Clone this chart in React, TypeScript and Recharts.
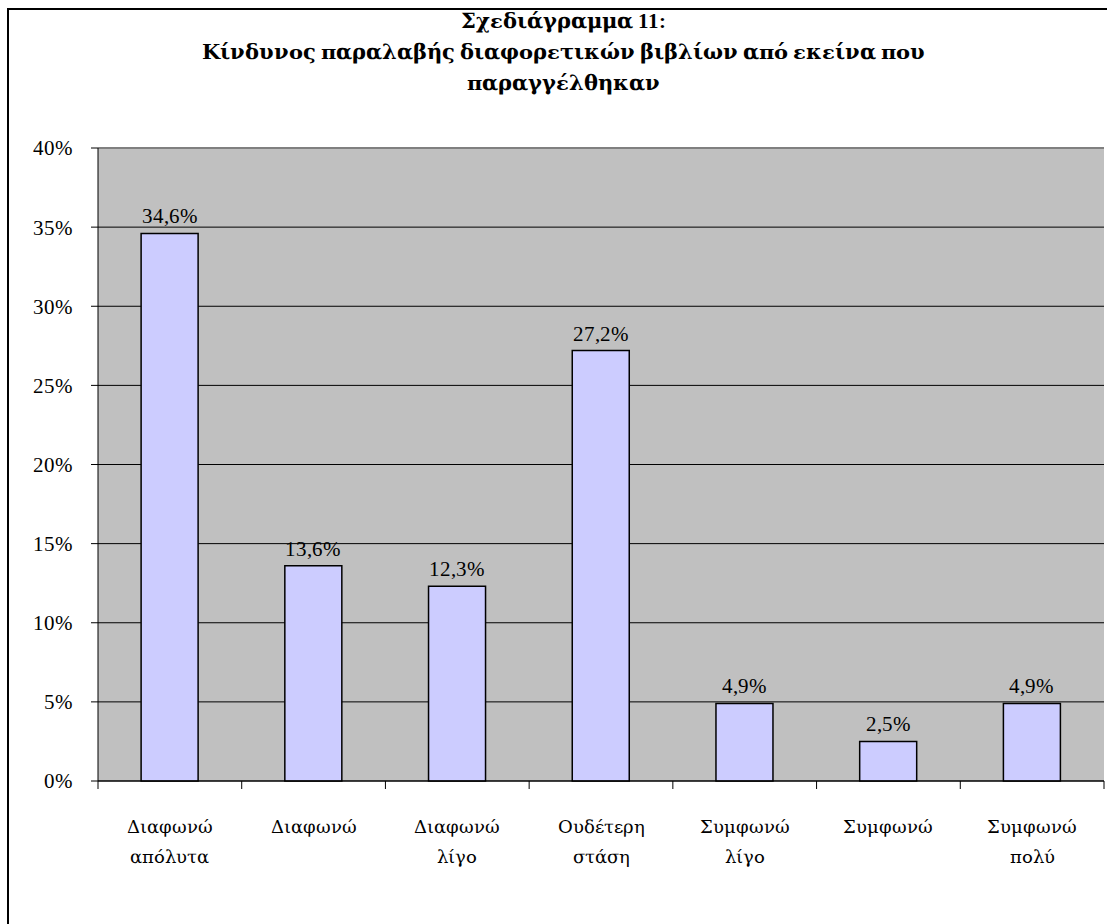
import { BarChart, Bar, XAxis, YAxis, CartesianGrid, LabelList, ReferenceLine } from 'recharts';

const categories = [
  ['Διαφωνώ', 'απόλυτα'],
  ['Διαφωνώ'],
  ['Διαφωνώ', 'λίγο'],
  ['Ουδέτερη', 'στάση'],
  ['Συμφωνώ', 'λίγο'],
  ['Συμφωνώ'],
  ['Συμφωνώ', 'πολύ'],
];
const values = [34.6, 13.6, 12.3, 27.2, 4.9, 2.5, 4.9];
const yTicks = [0, 5, 10, 15, 20, 25, 30, 35, 40];
const titleLines = [
  'Σχεδιάγραμμα 11:',
  'Κίνδυνος παραλαβής διαφορετικών βιβλίων από εκείνα που',
  'παραγγέλθηκαν',
];

const data = categories.map((c, i) => ({ name: c.join(' '), lines: c, value: values[i] }));

const W = 1107;
const H = 924;
const M = { top: 148, right: 3, bottom: 63, left: 0 };
const Y_W = 98;
const BAND = (W - M.left - M.right - Y_W) / categories.length;
const FONT = 'GrkSerif, "Liberation Serif", "DejaVu Serif", serif';

// greek glyphs from DejaVu Serif, latin/digits from Liberation Serif
const fontCss = `
body{margin:0}
@font-face{font-family:GrkSerif;src:local("DejaVu Serif");font-weight:400;unicode-range:U+0370-03FF,U+1F00-1FFF;}
@font-face{font-family:GrkSerif;src:local("DejaVu Serif Bold"),local("DejaVuSerif-Bold");font-weight:700;unicode-range:U+0370-03FF,U+1F00-1FFF;}
@font-face{font-family:GrkSerif;src:local("Liberation Serif"),local("LiberationSerif");font-weight:400;unicode-range:U+0000-036F;}
@font-face{font-family:GrkSerif;src:local("Liberation Serif Bold"),local("LiberationSerif-Bold");font-weight:700;unicode-range:U+0000-036F;}
`;

const fmt = (v: number) => `${v.toFixed(1).replace('.', ',')}%`;

function CatTick(props: any) {
  const { x, y, index } = props;
  const lines = data[index].lines;
  return (
    <g>
      <line x1={x - BAND / 2} x2={x - BAND / 2} y1={y} y2={y + 8} stroke="#000" />
      {index === data.length - 1 && (
        <line x1={x + BAND / 2} x2={x + BAND / 2} y1={y} y2={y + 8} stroke="#000" />
      )}
      {lines.map((l: string, i: number) => (
        <text key={i} x={x} y={y + 52 + i * 30} textAnchor="middle" fontSize={18} fontFamily={FONT} fill="#000">
          {l}
        </text>
      ))}
    </g>
  );
}

export default function App() {
  return (
    <div style={{ position: 'relative', width: W, height: H, background: '#fff', overflow: 'hidden' }}>
      <style>{fontCss}</style>
      <div
        style={{
          position: 'absolute', left: 7, top: 8, width: W, height: H,
          borderLeft: '2px solid #000', borderTop: '2px solid #000',
        }}
      />
      <div
        style={{
          position: 'absolute', left: 0, top: 6, width: 1126, textAlign: 'center',
          fontFamily: FONT, fontWeight: 'bold', fontSize: 21, lineHeight: '31px', color: '#000',
        }}
      >
        {titleLines.map((t, i) => (
          <div key={i}>{t}</div>
        ))}
      </div>
      <div style={{ position: 'absolute', left: 0, top: 0 }}>
        <BarChart width={W} height={H} data={data} margin={M} barCategoryGap="30%">
          <CartesianGrid vertical={false} fill="#C0C0C0" stroke="#000" strokeOpacity={1} />
          <XAxis
            dataKey="name"
            axisLine={{ stroke: '#000' }}
            tickLine={false}
            tickSize={0}
            tickMargin={0}
            tick={<CatTick />}
            interval={0}
            height={80}
          />
          <YAxis
            domain={[0, 40]}
            ticks={yTicks}
            width={Y_W}
            axisLine={{ stroke: '#000' }}
            tickLine={{ stroke: '#000' }}
            tickSize={7}
            tickMargin={18}
            tickFormatter={(v: number) => `${v}%`}
            tick={{ fontSize: 21, fontFamily: FONT, fill: '#000' }}
            interval={0}
          />
          <ReferenceLine y={40} stroke="#808080" strokeWidth={2} />
          <Bar dataKey="value" fill="#CCCCFF" stroke="#000" strokeWidth={1.5} isAnimationActive={false}>
            <LabelList
              dataKey="value"
              position="top"
              offset={10}
              formatter={(v: any) => fmt(Number(v))}
              style={{ fontSize: 21, fontFamily: FONT, fill: '#000' }}
            />
          </Bar>
        </BarChart>
      </div>
    </div>
  );
}
